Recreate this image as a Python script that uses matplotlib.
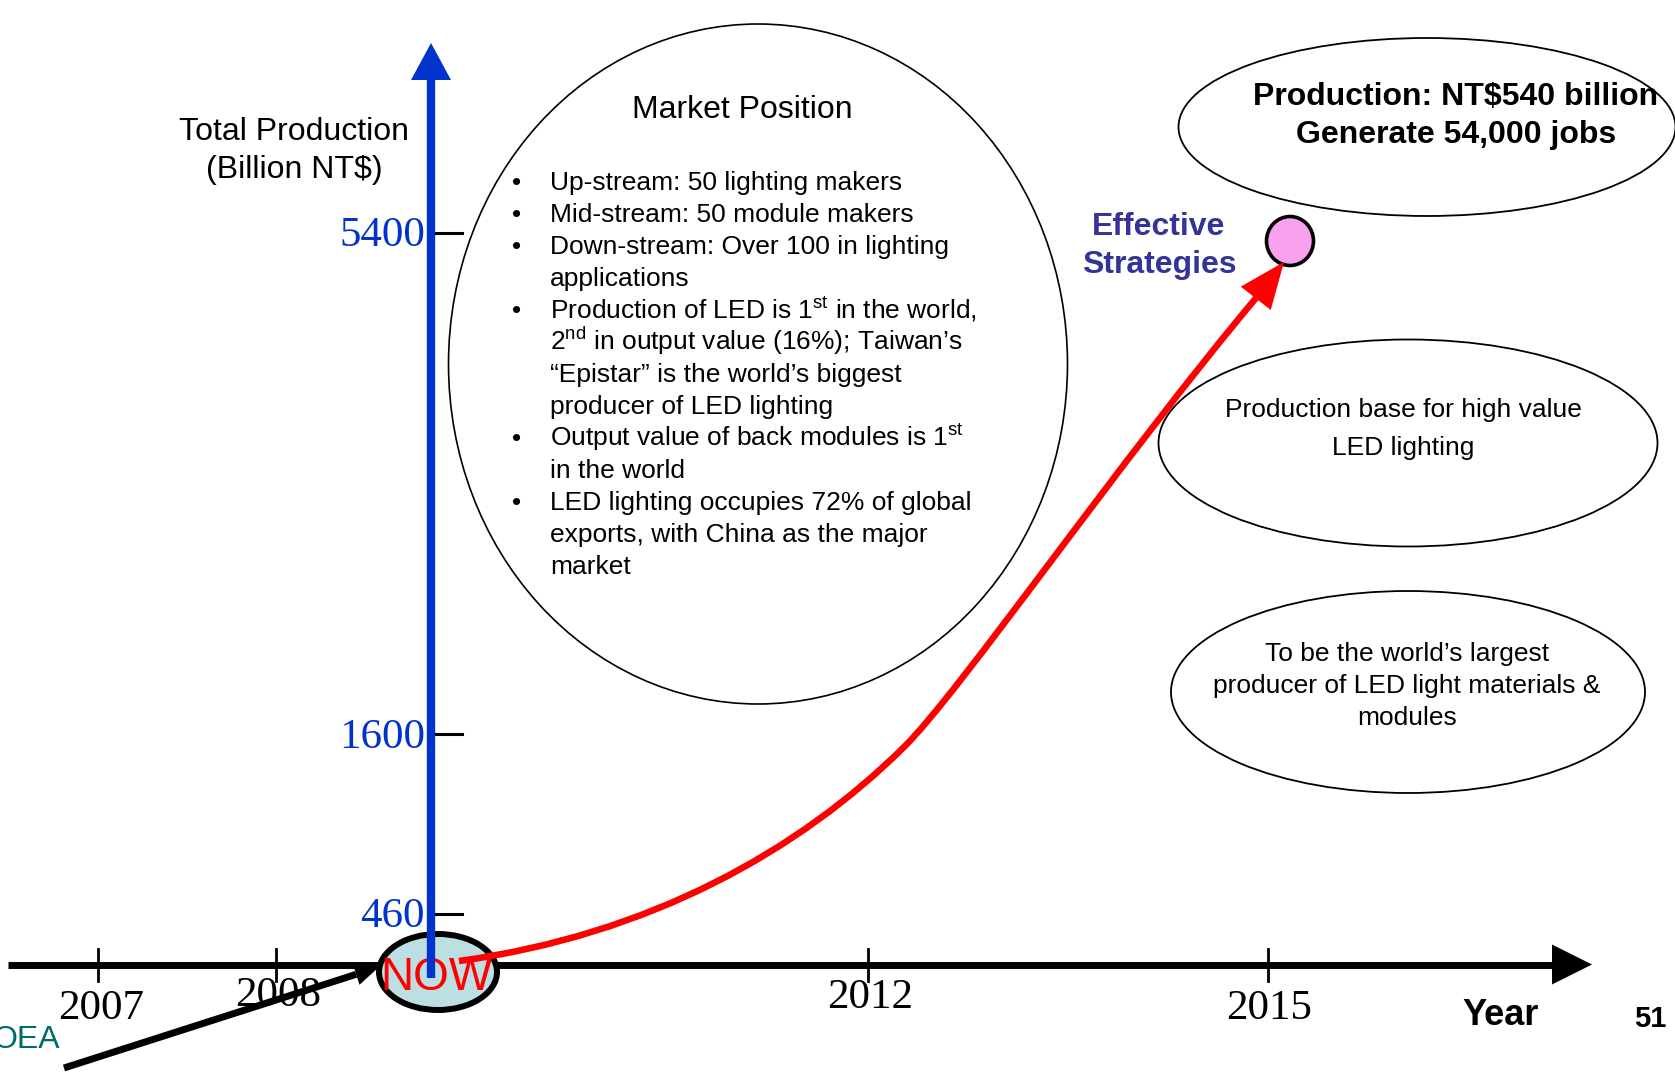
import numpy as np
import matplotlib
matplotlib.use("Agg")
import matplotlib.pyplot as plt
from matplotlib.patches import Ellipse, Polygon, PathPatch
from matplotlib.path import Path

plt.rcParams['mathtext.fontset'] = 'custom'
plt.rcParams['mathtext.rm'] = 'Liberation Sans'
plt.rcParams['mathtext.it'] = 'Liberation Sans:italic'
plt.rcParams['mathtext.bf'] = 'Liberation Sans:bold'

SANS = 'Liberation Sans'
SERIF = 'Liberation Serif'

# ---- content ----
years = ['2007', '2008', '2012', '2015']
now_label = 'NOW'
production_ticks = [460, 1600, 5400]
y_title = ['Total Production', '(Billion NT\\$)']
x_title = 'Year'
page_number = '51'
source_tag = 'OEA'

market_title = 'Market Position'
market_bullets = [
    ['Up-stream: 50 lighting makers'],
    ['Mid-stream: 50 module makers'],
    ['Down-stream: Over 100 in lighting', 'applications'],
    ['Production of LED is 1$^{\\mathrm{st}}$ in the world,',
     '2$^{\\mathrm{nd}}$ in output value (16%); Taiwan\u2019s',
     '\u201cEpistar\u201d is the world\u2019s biggest',
     'producer of LED lighting'],
    ['Output value of back modules is 1$^{\\mathrm{st}}$', 'in the world'],
    ['LED lighting occupies 72% of global',
     'exports, with China as the major', 'market'],
]
goal_lines = ['Production: NT\\$540 billion', 'Generate 54,000 jobs']
strategy_lines = ['Effective', 'Strategies']
base_lines = ['Production base for high value', 'LED lighting']
largest_lines = ['To be the world\u2019s largest',
                 'producer of LED light materials &', 'modules']

# ---- layout (canvas pixels, y downward) ----
W, H = 1675, 1072
fig = plt.figure(figsize=(W / 100, H / 100), dpi=100)
ax = fig.add_axes([0, 0, 1, 1])
ax.set_xlim(0, W)
ax.set_ylim(H, 0)
ax.axis('off')

axis_y = 964.5
axis_x0, axis_head_base, axis_tip = 8, 1552, 1592
year_x = {'2007': 98, '2008': 276, '2012': 868, '2015': 1268}
year_label_pos = {'2007': (101, 1019), '2008': (278, 1006),
                  '2012': (870, 1008), '2015': (1269, 1019)}
vert_x = 431
tick_y = {460: 914, 1600: 734, 5400: 233}
tick_label_base = {460: 927, 1600: 748, 5400: 246}

BLUE = '#0033CC'
RED = '#FF0000'

# Market Position ellipse (drawn first, under the axes)
ax.add_patch(Ellipse((758, 364), 619, 680, fill=False, ec='black', lw=1.2, zorder=1))
ax.text(742, 117.5, market_title, family=SANS, fontsize=23, ha='center',
        va='baseline', zorder=5)
line = 0
for item in market_bullets:
    for k, txt in enumerate(item):
        yb = 190 + 32.04 * line
        if k == 0:
            ax.text(517, yb, '\u2022', family=SANS, fontsize=19, ha='center',
                    va='baseline', zorder=5)
        ax.text(550, yb, txt, family=SANS, fontsize=19, ha='left',
                va='baseline', zorder=5)
        line += 1

# Right-hand ellipses
ax.add_patch(Ellipse((1427, 127), 497, 178, fill=False, ec='black', lw=1.3, zorder=1))
for txt, yb in zip(goal_lines, [105, 143]):
    ax.text(1456, yb, txt, family=SANS, fontsize=23, fontweight='bold',
            ha='center', va='baseline', zorder=5)

ax.add_patch(Ellipse((1408, 443), 499, 207, fill=False, ec='black', lw=1.3, zorder=1))
for txt, yb in zip(base_lines, [417, 455]):
    ax.text(1403, yb, txt, family=SANS, fontsize=19, ha='center',
            va='baseline', zorder=5)

ax.add_patch(Ellipse((1408, 692), 474, 202, fill=False, ec='black', lw=1.3, zorder=1))
for txt, yb in zip(largest_lines, [661, 693, 725]):
    ax.text(1407, yb, txt, family=SANS, fontsize=19, ha='center',
            va='baseline', zorder=5)

for txt, yb in zip(strategy_lines, [235, 273]):
    ax.text(1159, yb, txt, family=SANS, fontsize=23, fontweight='bold',
            color='#333399', ha='center', va='baseline', zorder=5)

ax.add_patch(Ellipse((1290, 241), 47, 49, fc='#F7A1EF', ec='black', lw=2.6, zorder=6))

# Horizontal time axis
ax.plot([axis_x0, axis_head_base], [axis_y, axis_y], color='black', lw=5,
        solid_capstyle='butt', zorder=3)
ax.add_patch(Polygon([(axis_head_base, axis_y - 20), (axis_tip, axis_y),
                      (axis_head_base, axis_y + 20)], closed=True,
                     fc='black', ec='none', zorder=3))
for yr in years:
    x = year_x[yr]
    ax.plot([x, x], [axis_y - 16, axis_y + 16], color='black', lw=2, zorder=3)
    lx, lb = year_label_pos[yr]
    ax.text(lx, lb, yr, family=SERIF, fontsize=31, ha='center',
            va='baseline', zorder=4)

ax.text(1501, 1025, x_title, family=SANS, fontsize=26, fontweight='bold',
        ha='center', va='baseline', zorder=5)
ax.text(1650, 1027, page_number, family=SANS, fontsize=21, fontweight='bold',
        ha='center', va='baseline', zorder=5)
ax.text(60, 1048, source_tag, family=SANS, fontsize=23, color='#006B6B',
        ha='right', va='baseline', zorder=5)

# NOW marker
ax.add_patch(Ellipse((438, 972), 118, 76, fc='#BBDFE3', ec='black', lw=4.3, zorder=6))
ax.text(436, 990, now_label, family=SANS, fontsize=33, color=RED,
        ha='center', va='baseline', zorder=7)

# Vertical production axis
ax.plot([vert_x, vert_x], [978, 80], color=BLUE, lw=6, solid_capstyle='butt', zorder=8)
ax.add_patch(Polygon([(vert_x - 20, 80), (vert_x, 43), (vert_x + 20, 80)],
                     closed=True, fc=BLUE, ec='none', zorder=8))
for v in production_ticks:
    ty = tick_y[v]
    ax.plot([vert_x, 462], [ty, ty], color='black', lw=2.2, zorder=3)
    ax.text(425, tick_label_base[v], str(v), family=SERIF, fontsize=31,
            color=BLUE, ha='right', va='baseline', zorder=4)

ax.text(294, 140, y_title[0], family=SANS, fontsize=23, ha='center',
        va='baseline', zorder=5)
ax.text(294, 178, y_title[1], family=SANS, fontsize=23, ha='center',
        va='baseline', zorder=5)

# Black arrow leading into NOW
a0 = np.array([64.0, 1068.0])
a1 = np.array([379.0, 967.0])
d = (a1 - a0) / np.linalg.norm(a1 - a0)
n = np.array([-d[1], d[0]])
head_len, head_w = 24, 11
base = a1 - head_len * d
ax.plot([a0[0], base[0]], [a0[1], base[1]], color='black', lw=5,
        solid_capstyle='butt', zorder=9)
ax.add_patch(Polygon([base + head_w * n, a1, base - head_w * n], closed=True,
                     fc='black', ec='none', zorder=9))

# Red growth curve
growth_path = [(459, 961), (650, 935), (800, 850), (904, 747),
               (959, 693), (1120, 460), (1256, 298)]
codes = [Path.MOVETO] + [Path.CURVE4] * 6
ax.add_patch(PathPatch(Path(growth_path, codes), fill=False, ec=RED, lw=4.7,
                       capstyle='butt', zorder=9))
tip = np.array([1284.0, 262.0])
d = tip - np.array(growth_path[-1], float)
d /= np.linalg.norm(d)
n = np.array([-d[1], d[0]])
base = tip - 46 * d
ax.add_patch(Polygon([base + 19 * n, tip, base - 19 * n], closed=True,
                     fc=RED, ec='none', zorder=9))

fig.savefig('out.png', dpi=100, facecolor='white')
